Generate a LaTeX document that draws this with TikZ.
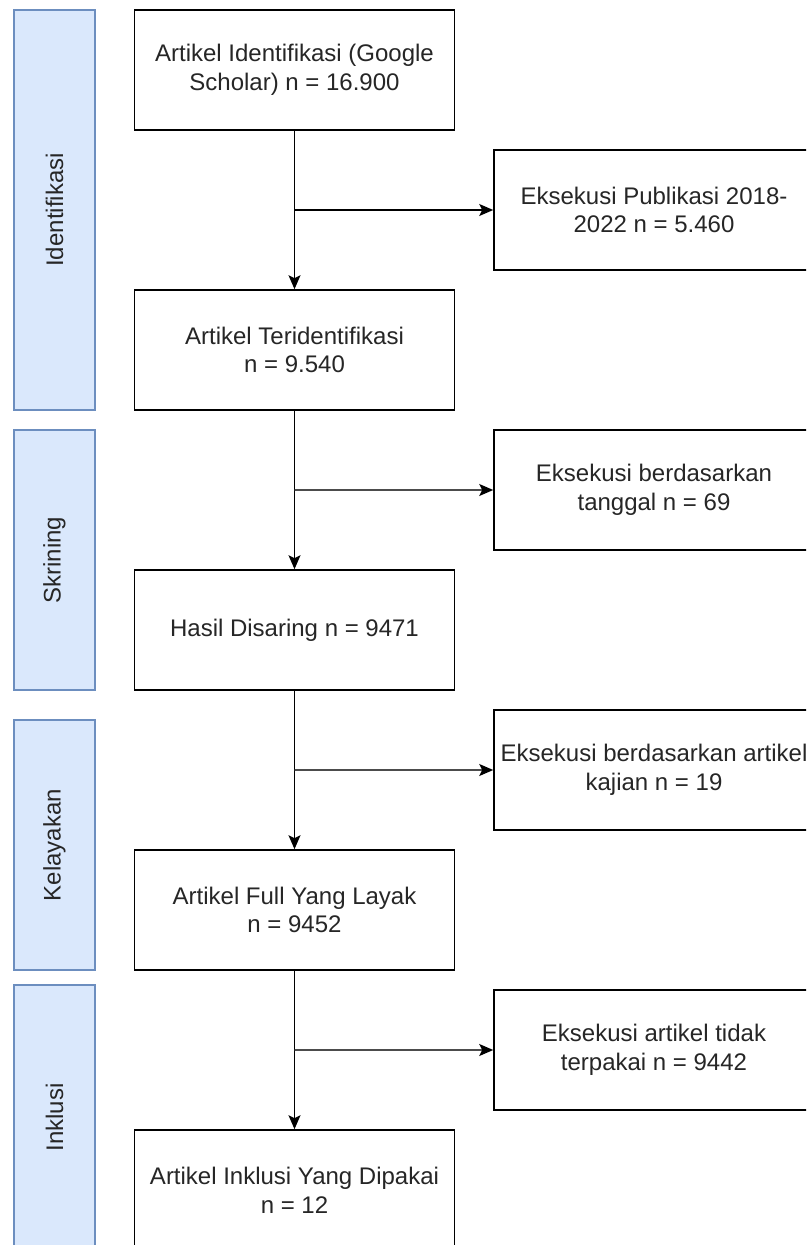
\documentclass[tikz,border=0pt]{standalone}
\usepackage{fontspec}
\setmainfont{Liberation Sans}
\usetikzlibrary{arrows.meta,calc}
\definecolor{phasefill}{HTML}{DAE8FC}
\definecolor{phaseline}{HTML}{6C8EBF}
\definecolor{txt}{HTML}{262626}
\tikzset{
  mainbox/.style={draw=black,line width=1.6pt,fill=white,minimum width=320pt,minimum height=120pt,inner sep=0pt,align=center,text=txt,font=\fontsize{24}{28.8}\selectfont},
  phasebox/.style={draw=phaseline,line width=1.6pt,fill=phasefill,rotate=90,minimum height=81pt,inner sep=0pt,text=txt,font=\fontsize{24}{28.8}\selectfont},
  flow/.style={line width=1.6pt,draw=black,-{Stealth[length=14pt,width=12pt,inset=3pt]}},
  sideflow/.style={line width=1.6pt,draw=black!70,-{Stealth[length=14pt,width=12pt,inset=3pt,fill=black,color=black]}}
}
\begin{document}
\begin{tikzpicture}[x=1pt,y=-1pt]
\useasboundingbox (0,0) rectangle (806,1245);
\clip (0,0) rectangle (806,1245);
% phase labels
\node[phasebox,minimum width=400pt] (p1) at (54.5,210) {Identifikasi};
\node[phasebox,minimum width=260pt] (p2) at (54.5,560) {Skrining};
\node[phasebox,minimum width=250pt] (p3) at (54.5,845) {Kelayakan};
\node[phasebox,minimum width=265pt] (p4) at (54.5,1117.5) {Inklusi};
% main column
\node[mainbox] (b1) at (294.5,70) {Artikel Identifikasi (Google\\Scholar) n = 16.900};
\node[mainbox] (b2) at (294.5,350) {Artikel Teridentifikasi\\n = 9.540};
\node[mainbox] (b3) at (294.5,630) {Hasil Disaring n = 9471};
\node[mainbox] (b4) at (294.5,910) {Artikel Full Yang Layak\\n = 9452};
\node[mainbox] (b5) at (294.5,1190) {Artikel Inklusi Yang Dipakai\\n = 12};
% exclusion column
\node[mainbox] (r1) at (654,210) {Eksekusi Publikasi 2018-\\2022 n = 5.460};
\node[mainbox] (r2) at (654,490) {Eksekusi berdasarkan\\tanggal n = 69};
\node[mainbox] (r3) at (654,770) {Eksekusi berdasarkan artikel\\kajian n = 19};
\node[mainbox] (r4) at (654,1050) {Eksekusi artikel tidak\\terpakai n = 9442};
% junctions
\coordinate (j1) at ($(b1.south)!0.5!(b2.north)$);
\coordinate (j2) at ($(b2.south)!0.5!(b3.north)$);
\coordinate (j3) at ($(b3.south)!0.5!(b4.north)$);
\coordinate (j4) at ($(b4.south)!0.5!(b5.north)$);
% connectors
\draw[flow] (b1) -- (b2);
\draw[flow] (b2) -- (b3);
\draw[flow] (b3) -- (b4);
\draw[flow] (b4) -- (b5);
\draw[flow] (j1) -- (r1.west);
\draw[sideflow] (j2) -- (r2.west);
\draw[sideflow] (j3) -- (r3.west);
\draw[sideflow] (j4) -- (r4.west);
\end{tikzpicture}
\end{document}
